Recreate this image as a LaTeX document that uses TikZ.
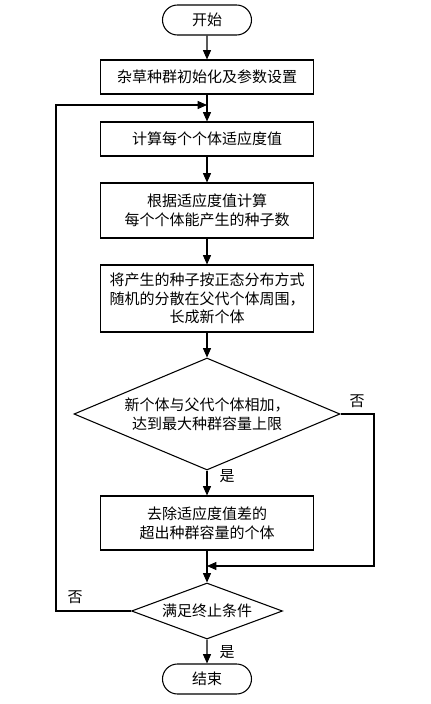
\documentclass[tikz,border=0pt]{standalone}
\usepackage{fontspec}
\setmainfont{Noto Sans CJK SC}
\usetikzlibrary{shapes.geometric,shapes.misc,arrows.meta}

\tikzset{
	box/.style = {draw, line width=.8pt, minimum width=160pt, align=center, inner sep=0pt},
	term/.style = {draw, line width=.8pt, rounded rectangle, minimum width=66.75pt, minimum height=22.5pt, inner sep=0pt},
	dec/.style = {draw, line width=.8pt, diamond, align=center, inner sep=0pt},
	arr/.style = {line width=.8pt, -{Triangle[length=7pt,width=6pt]}},
	flow/.style = {line width=.8pt}
}

\begin{document}
\begin{tikzpicture}[x=.75pt, y=-.75pt, font=\fontsize{11.25}{14}\selectfont]
		\useasboundingbox (0,0) rectangle (430,704);
		
		\node (start) at (207,20) [term] {开始};
		\node (init) at (207,77) [box, minimum height=25.5pt] {杂草种群初始化及参数设置};
		\node (fit) at (207,139) [box, minimum height=25.5pt] {计算每个个体适应度值};
		\node (seed) at (207,210.5) [box, minimum height=41.25pt] {根据适应度值计算\\每个个体能产生的种子数};
		\node (spread) at (207,298.5) [box, minimum height=50.25pt] {将产生的种子按正态分布方式\\随机的分散在父代个体周围，\\长成新个体};
		\node (full) at (207,414) [dec, aspect=2.375, minimum width=199.5pt, minimum height=84pt] {新个体与父代个体相加，\\达到最大种群容量上限};
		\node (cut) at (207,523) [box, minimum height=40.5pt] {去除适应度值差的\\超出种群容量的个体};
		\node (stop) at (207,611) [dec, aspect=2.7, minimum width=113.25pt, minimum height=42pt] {满足终止条件};
		\node (end) at (207,679) [term] {结束};
		
		\coordinate (join1) at (207,105);
		\coordinate (join2) at (207,566);
		\coordinate (back) at (56,105);
		\coordinate (skip) at (374,566);
		
		\draw [arr] (start) -- (init);
		\draw [arr] (init) -- (fit);
		\draw [arr] (fit) -- (seed);
		\draw [arr] (seed) -- (spread);
		\draw [arr] (spread) -- (full);
		\draw [arr] (full) -- (cut);
		\draw [arr] (cut) -- (stop);
		\draw [arr] (stop) -- (end);
		
		\draw [arr] (full.east) -| (skip) -- (join2);
		\draw [arr] (stop.west) -| (back) -- (join1);
		
		\node (no1) at (357,401) {否};
		\node (yes1) at (227,476) {是};
		\node (no2) at (75,597) {否};
		\node (yes2) at (227,652) {是};
\end{tikzpicture}
\end{document}
